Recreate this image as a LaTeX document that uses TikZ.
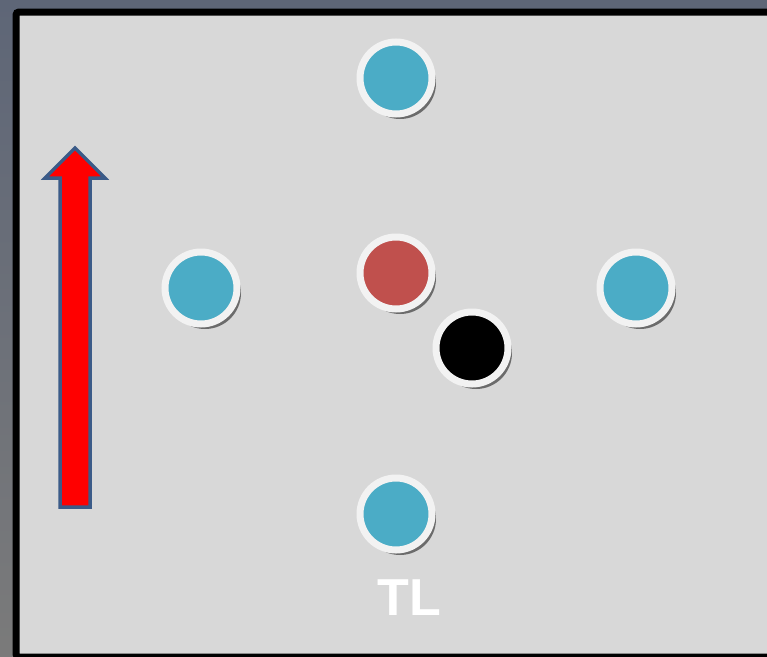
\documentclass[tikz,border=0pt]{standalone}
\usepackage{fontspec}
\setmainfont{Liberation Sans}
\usetikzlibrary{shadows}
\definecolor{slate}{HTML}{5E6677}
\definecolor{fieldgray}{HTML}{D8D8D8}
\definecolor{ringwhite}{HTML}{F2F2F2}
\definecolor{teamblue}{HTML}{4BACC6}
\definecolor{teamred}{HTML}{C0504D}
\definecolor{arrowedge}{HTML}{3B5B88}
\definecolor{shadowgray}{HTML}{6B6B6B}

\begin{document}
\begin{tikzpicture}[
    x=1pt,y=-1pt,
    player/.style={circle,draw=ringwhite,line width=7pt,minimum size=72pt,inner sep=0pt,
      drop shadow={shadow xshift=4pt,shadow yshift=-5pt,opacity=1,fill=shadowgray}}
]
\useasboundingbox (0,0) rectangle (767,656);
\clip (0,0) rectangle (767,656);
\shade[top color=slate,bottom color=black!52] (0,0) rectangle (767,656);
\draw[line width=7pt,rounded corners=3pt,fill=fieldgray] (16,12) rectangle (790,657);

% players
\node[player,fill=teamblue] (top) at (396,78) {};
\node[player,fill=teamblue] (left) at (201,288) {};
\node[player,fill=teamred] (center) at (396,273) {};
\node[player,fill=black] (ball) at (472,348) {};
\node[player,fill=teamblue] (right) at (636,288) {};
\node[player,fill=teamblue] (bottom) at (396,514) {};

% direction arrow
\draw[arrowedge,line width=3.5pt,fill=red,line join=miter]
  (60,507) -- (60,178) -- (45,178) -- (75,148) -- (105,178) -- (90,178) -- (90,507) -- cycle;

\node[text=white,font=\fontsize{52}{52}\selectfont\bfseries] (label) at (409,598) {TL};
\end{tikzpicture}
\end{document}
